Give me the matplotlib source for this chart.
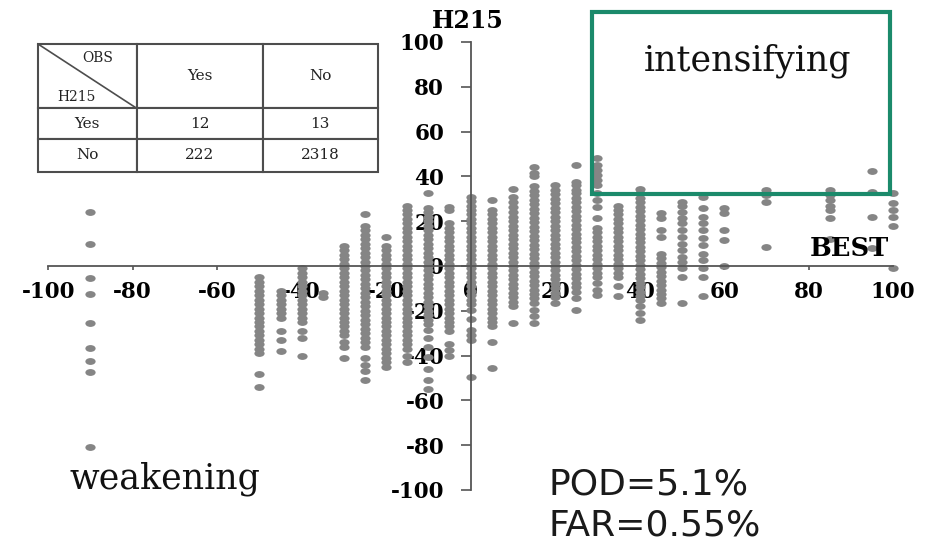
import matplotlib
matplotlib.use("Agg")
import matplotlib.pyplot as plt
import numpy as np
from matplotlib.path import Path
from matplotlib.patches import Rectangle

# ==========================================
# Data
# ==========================================
# BEST intensity change (x) and the H215 forecasts stacked at each value (y)
best_cols = [-90, -50, -45, -40, -35, -30, -25, -20, -15, -10, -5, 0, 5, 10,
             15, 20, 25, 30, 35, 40, 45, 50, 55, 60, 70, 85, 95, 100]

h215_stacks = [
    [24, 10, -5.5, -12.5, -25.5, -36.5, -42.5, -47.5, -81],
    [-5, -7, -9, -11, -13, -15, -17, -19, -21, -23, -25, -27, -29, -31, -33, -35, -37, -39, -48, -54],
    [-11, -13, -15, -17, -19, -21, -23, -29, -33, -38],
    [-1, -3, -5, -7, -9, -11, -13, -15, -17, -19, -21, -23, -25, -29, -32, -40],
    [-12, -14],
    [9, 7, 5, 3, 1, -1, -3, -5, -7, -9, -11, -13, -15, -17, -19, -21, -23, -25, -27, -29, -31, -34, -36, -41],
    [23, 18, 16, 14, 12, 10, 8, 6, 4, 2, 0, -2, -4, -6, -8, -10, -12, -14, -16, -18, -20, -22, -24,
     -26, -28, -30, -32, -34, -36, -41, -44, -47, -51],
    [13, 9, 7, 5, 3, 1, -1, -3, -5, -7, -9, -11, -13, -15, -17, -19, -21, -23, -25, -27, -29, -31,
     -33, -35, -37, -39, -41, -43, -45],
    [27, 25, 23, 21, 19, 17, 15, 13, 11, 9, 7, 5, 3, 1, -1, -3, -5, -7, -9, -11, -13, -15, -17, -19,
     -21, -23, -25, -27, -29, -31, -33, -35, -37, -40, -43],
    [32.5, 26, 24, 22, 20, 18, 16, 14, 12, 10, 8, 6, 4, 2, 0, -2, -4, -6, -8, -10, -12, -14, -16, -18,
     -20, -22, -24, -26, -28.5, -32, -36, -40.5, -46, -51, -55],
    [26.5, 25, 19, 17, 15, 13, 11, 9, 7, 5, 3, 1, -1, -3, -5, -7, -9, -11, -13, -15, -17, -19, -21,
     -23, -25, -27, -29, -35, -37.5, -40],
    [31, 29, 27, 25, 23, 21, 19, 17, 15, 13, 11, 9, 7, 5, 3, 1, -1, -3, -5, -7, -9, -11, -13, -15,
     -17, -19.5, -23.5, -28.5, -31, -33, -49.5],
    [29.5, 25, 23, 21, 19, 17, 15, 13, 11, 9, 7, 5, 3, 1, -1, -3, -5, -7, -9, -11, -13, -15, -17,
     -19, -21, -23, -25, -27, -34, -45.5],
    [34.5, 31, 28.5, 26.5, 24, 22, 20, 18, 16, 14, 12, 10, 8, 6, 4, 2, 0, -2, -4, -6, -8, -10, -12,
     -14, -16, -18, -25.5],
    [44, 41.5, 40, 35.5, 33.5, 31.5, 29.5, 27.5, 25.5, 23.5, 21.5, 19.5, 17.5, 15.5, 13.5, 11.5, 9.5,
     7.5, 5.5, 3.5, 1.5, -0.5, -2.5, -4.5, -6.5, -8.5, -10.5, -12.5, -14.5, -16.5, -19.5, -22.5, -25.5],
    [36, 34, 32, 30, 28, 26, 24, 22, 20, 18, 16, 14, 12, 10, 8, 6, 4, 2, 0, -2, -4, -6, -8, -10, -12,
     -14, -16.5],
    [45, 37.5, 36, 34, 32.5, 30.5, 28.5, 26.5, 24.5, 22.5, 20.5, 18.5, 16.5, 14.5, 12.5, 10.5, 8.5,
     6.5, 4.5, 2.5, 0.5, -1.5, -3.5, -5.5, -7.5, -9.5, -11.5, -14.5, -19.5],
    [48, 45, 43, 40.5, 38.5, 36, 32.5, 29.5, 26.5, 21.5, 17, 15, 13, 11, 9, 7, 5, 3, 1, -1, -3, -5,
     -7.5, -10.5, -13],
    [27, 25, 23, 21, 19, 17, 15, 13, 11, 9, 7, 5, 3, 1, -1, -3, -5, -9, -13.5],
    [34.5, 32.5, 30.5, 28.5, 26.5, 24.5, 22.5, 20.5, 18.5, 16.5, 14.5, 12.5, 10.5, 8.5, 6.5, 4.5, 2.5,
     0.5, -1.5, -3.5, -5.5, -7.5, -9.5, -11.5, -13.5, -15, -18, -21, -24],
    [23.5, 21.5, 16, 13, 5.5, 3.5, 1.5, -0.5, -2.5, -4.5, -6.5, -8.5, -10.5, -12.5, -14.5, -16.5],
    [28.5, 27, 24, 21.5, 19, 16, 13, 10, 7, 4, 2, -1, -5, -16.5],
    [31, 26, 22, 19, 16, 12.5, 9.5, 5.5, 2.5, -1, -5, -13.5],
    [26, 23.5, 16, 11.5, 0],
    [34, 31.5, 28.5, 8.5],
    [34, 31.5, 29.5, 27, 25, 21.5, 12],
    [42.5, 33, 22, 8],
    [32.5, 28, 25, 22, 18, -1],
]

axis_ticks = [-100, -80, -60, -40, -20, 0, 20, 40, 60, 80, 100]

# contingency table
table_header = ["", "Yes", "No"]
table_rows = [["Yes", "12", "13"],
              ["No", "222", "2318"]]

pod_text = "POD=5.1%"
far_text = "FAR=0.55%"

# intensifying box (BEST >= 30, H215 >= 30)
box_x0, box_x1 = 28.75, 99.2
box_y0, box_y1 = 32.3, 113.4

# ==========================================
# Figure
# ==========================================
SERIF = "DejaVu Serif"
fig = plt.figure(figsize=(9.26, 5.46), dpi=100)
ax = fig.add_axes([0, 0, 1, 1])
ax.set_xlim(-111.4, 107.8)
ax.set_ylim(-125.0, 118.75)

xs = []
ys = []
for col, stack in zip(best_cols, h215_stacks):
    xs += [col] * len(stack)
    ys += stack

# slightly flattened dots, like the stretched original
circ = Path.unit_circle()
dot = Path(circ.vertices * np.array([1.5, 1.0]), circ.codes)
ax.plot(xs, ys, linestyle="none", marker=dot, markersize=7.4,
        color="#858585", markeredgewidth=0, zorder=2)

# axes through the origin
for side in ["top", "right"]:
    ax.spines[side].set_visible(False)
ax.spines["left"].set_position(("data", 0))
ax.spines["bottom"].set_position(("data", 0))
ax.spines["left"].set_bounds(-100, 100)
ax.spines["bottom"].set_bounds(-100, 100)
for side in ["left", "bottom"]:
    ax.spines[side].set_color("#555555")
    ax.spines[side].set_linewidth(1.3)

ax.set_xticks(axis_ticks)
ax.set_yticks(axis_ticks)
ax.set_xticklabels([str(t) for t in axis_ticks])
ax.set_yticklabels([str(t) for t in axis_ticks])
ax.tick_params(axis="x", direction="out", length=3, width=1.2, color="#555555", pad=8)
ax.tick_params(axis="y", direction="out", length=7, width=1.2, color="#555555", pad=12)
for lab in ax.get_xticklabels() + ax.get_yticklabels():
    lab.set_fontfamily(SERIF)
    lab.set_fontweight("bold")
    lab.set_fontsize(15.5)

ax.text(-0.6, 109.4, "H215", ha="center", va="center", fontsize=17,
        fontweight="bold", family=SERIF)
ax.text(89.6, 7.6, "BEST", ha="center", va="center", fontsize=18.5,
        fontweight="bold", family=SERIF)

# intensifying box
ax.add_patch(Rectangle((box_x0, box_y0), box_x1 - box_x0, box_y1 - box_y0,
                       fill=False, edgecolor="#1b8a6b", linewidth=3, zorder=3))
ax.text(65.6, 87.2, "intensifying", ha="center", va="baseline", fontsize=25,
        family=SERIF, color="#111111")
ax.text(-72.3, -99.3, "weakening", ha="center", va="baseline", fontsize=25,
        family=SERIF, color="#111111")

ax.text(18.4, -102.2, pod_text, ha="left", va="baseline", fontsize=26,
        family="DejaVu Sans", color="#1a1a1a")
ax.text(18.4, -120.1, far_text, ha="left", va="baseline", fontsize=26,
        family="DejaVu Sans", color="#1a1a1a")

# ==========================================
# Contingency table
# ==========================================
tbl = ax.table(cellText=[table_header] + table_rows, cellLoc="center",
               colWidths=[98.7, 125.6, 115.3],
               bbox=[38 / 926, 1 - 171.5 / 546, 340 / 926, 127.5 / 546])
tbl.auto_set_font_size(False)
row_h = [64.3, 31.0, 32.3]
for (r, c), cell in tbl.get_celld().items():
    cell.set_height(row_h[r])
    cell.set_edgecolor("#4d4d4d")
    cell.set_linewidth(1.5)
    cell.get_text().set_fontsize(11)
    cell.get_text().set_fontfamily(SERIF)
    cell.get_text().set_color("#222222")

# split header cell
ax.plot([38 / 926, 136.7 / 926], [1 - 44 / 546, 1 - 108.3 / 546],
        transform=ax.transAxes, color="#4d4d4d", linewidth=1.2)
ax.text(98 / 926, 1 - 58 / 546, "OBS", transform=ax.transAxes, ha="center",
        va="center", fontsize=10, family=SERIF, color="#222222")
ax.text(76 / 926, 1 - 97 / 546, "H215", transform=ax.transAxes, ha="center",
        va="center", fontsize=10, family=SERIF, color="#222222")

fig.savefig("out.png", dpi=100)
